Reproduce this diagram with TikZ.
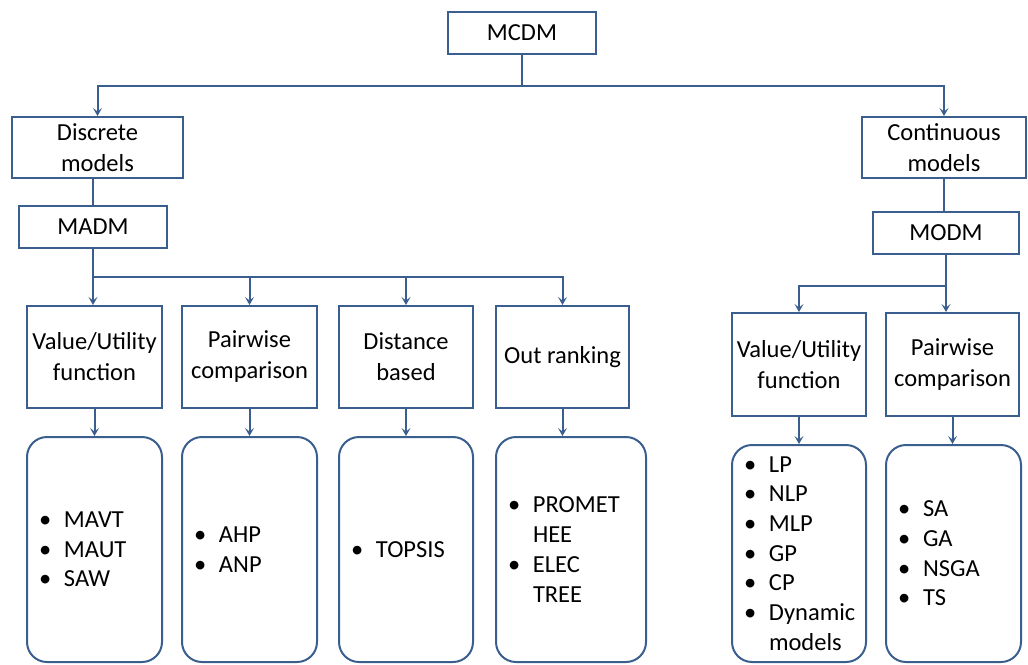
\documentclass[tikz,border=0pt]{standalone}
\usepackage{fontspec}
\setmainfont{Carlito}
\usetikzlibrary{arrows.meta, positioning, calc}
\usepackage{xcolor}
\definecolor{mcdmblue}{HTML}{3A5F8F}

\newcommand{\itm}[1]{\makebox[25pt][l]{\textbullet}#1}
\newcommand{\cnt}[1]{\makebox[25pt][l]{}#1}

\begin{document}
\begin{tikzpicture}[
    x=1pt, y=-1pt,
    box/.style={
        rectangle,
        draw=mcdmblue,
        line width=2pt,
        inner sep=0pt,
        align=center,
        font=\fontsize{24.5}{31}\selectfont
    },
    listbox/.style={
        rectangle,
        rounded corners=20pt,
        draw=mcdmblue,
        line width=2pt,
        inner xsep=12pt,
        inner ysep=0pt,
        text width=#1,
        align=left,
        font=\fontsize{24.5}{29.7}\selectfont
    },
    link/.style={
        draw=mcdmblue,
        line width=2pt
    },
    arrow/.style={
        link,
        -{Stealth[length=8pt, width=9pt, inset=3.5pt]}
    }
]
\useasboundingbox (0,0) rectangle (1028,664);

% Top
\node[box, minimum width=148pt, minimum height=42pt] (mcdm) at (522,33) {MCDM};

% Discrete / continuous
\node[box, minimum width=171pt, minimum height=61pt] (disc) at (97.5,147.5) {Discrete\\models};
\node[box, minimum width=164pt, minimum height=61pt] (cont) at (944,147.5) {Continuous\\models};

\node[box, minimum width=148pt, minimum height=42pt] (madm) at (93,227) {MADM};
\node[box, minimum width=146pt, minimum height=42pt] (modm) at (946,233) {MODM};

% MADM methods
\node[box, minimum width=135pt, minimum height=102pt] (value1) at (94.5,357) {Value/Utility\\function};
\node[box, minimum width=135pt, minimum height=102pt] (pair1) at (249.5,357) {Pairwise\\comparison};
\node[box, minimum width=134pt, minimum height=102pt] (dist) at (406,357) {Distance\\based};
\node[box, minimum width=133pt, minimum height=102pt] (outrank) at (562.5,357) {Out ranking};

\node[listbox=111pt, minimum height=225pt] (value1list) at (94.5,549.5) {\itm{MAVT}\\\itm{MAUT}\\\itm{SAW}};
\node[listbox=111pt, minimum height=225pt] (pair1list) at (249.5,549.5) {\itm{AHP}\\\itm{ANP}};
\node[listbox=110pt, minimum height=225pt] (distlist) at (406,549.5) {\itm{TOPSIS}};
\node[listbox=126pt, minimum height=225pt] (outranklist) at (571,549.5) {\itm{PROMET}\\\cnt{HEE}\\\itm{ELEC}\\\cnt{TREE}};

% MODM methods
\node[box, minimum width=134pt, minimum height=103pt] (value2) at (799,364.5) {Value/Utility\\function};
\node[box, minimum width=133pt, minimum height=103pt] (pair2) at (952.5,364.5) {Pairwise\\comparison};

\node[listbox=110pt, minimum height=217pt] (value2list) at (799,553.5) {\itm{LP}\\\itm{NLP}\\\itm{MLP}\\\itm{GP}\\\itm{CP}\\\itm{Dynamic}\\\cnt{models}};
\node[listbox=111pt, minimum height=217pt] (pair2list) at (953.5,553.5) {\itm{SA}\\\itm{GA}\\\itm{NSGA}\\\itm{TS}};

% Connectors
\coordinate (mcdmsplit) at (522,86);
\draw[link] (mcdm) -- (mcdmsplit);
\draw[arrow] (mcdmsplit) -| (disc);
\draw[arrow] (mcdmsplit) -| (cont);

\draw[link] (madm.north |- disc.south) -- (madm.north);
\draw[link] (cont) -- (cont |- modm.north);

\coordinate (madmsplit) at (93,277);
\draw[link] (madm) -- (madmsplit);
\draw[arrow] (madmsplit) -- (madmsplit |- value1.north);
\draw[arrow] (madmsplit) -| (pair1);
\draw[arrow] (madmsplit) -| (dist);
\draw[arrow] (madmsplit) -| (outrank);

\coordinate (modmsplit) at (946,286);
\draw[link] (modm) -- (modmsplit);
\draw[arrow] (modmsplit) -| (value2);
\draw[arrow] (modmsplit) -- (modmsplit |- pair2.north);

\draw[arrow] (value1) -- (value1list);
\draw[arrow] (pair1) -- (pair1list);
\draw[arrow] (dist) -- (distlist);
\draw[arrow] (outrank.south) -- (outrank.south |- outranklist.north);
\draw[arrow] (value2) -- (value2list);
\draw[arrow] (pair2) -- (pair2.south |- pair2list.north);

\end{tikzpicture}
\end{document}
